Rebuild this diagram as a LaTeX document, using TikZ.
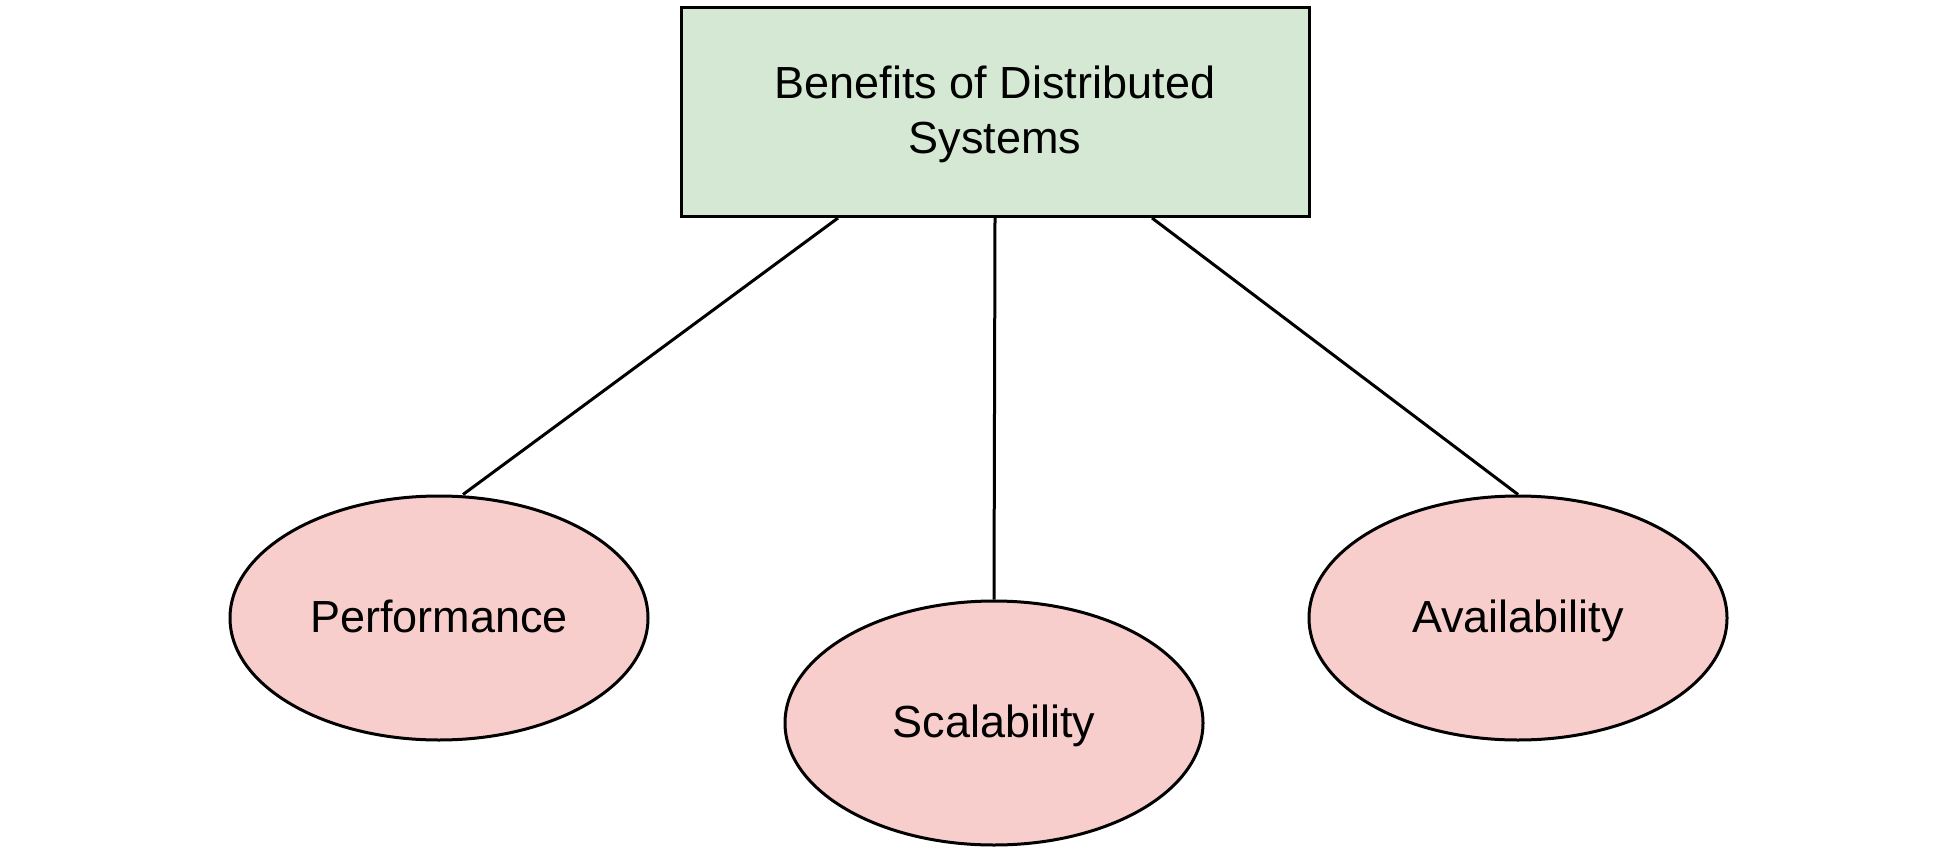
\documentclass[tikz,border=0pt]{standalone}
\usepackage{fontspec}
\setmainfont{Liberation Sans}
\usetikzlibrary{shapes.geometric}
\definecolor{boxgreen}{HTML}{D5E8D4}
\definecolor{ellpink}{HTML}{F8CECC}
\begin{document}
\begin{tikzpicture}[x=1pt,y=-1pt,
 every node/.style={font=\fontsize{45}{55}\selectfont, text=black},
 topbox/.style={draw=black, line width=3pt, fill=boxgreen, minimum width=628pt, minimum height=209pt, inner sep=0pt},
 titletext/.style={align=center, inner sep=0pt},
 leaf/.style={ellipse, draw=black, line width=3pt, fill=ellpink, minimum width=418pt, minimum height=244pt, inner sep=0pt, text height=33pt, text depth=5pt},
 link/.style={draw=black, line width=3pt}]
\useasboundingbox (0,0) rectangle (1951,851);
\node[topbox] (top) at (995,112) {};
\node[titletext] (toptitle) at (995,114.75) {Benefits of Distributed\\Systems};
\node[leaf] (perf) at (439,618) {Performance};
\node[leaf] (scal) at (994,723) {Scalability};
\node[leaf] (avail) at (1518,618) {Availability};
\draw[link] ([xshift=-157pt]top.south) -- ([xshift=24pt]perf.north);
\draw[link] (top.south) -- (scal.north);
\draw[link] ([xshift=157pt]top.south) -- (avail.north);
\end{tikzpicture}
\end{document}
